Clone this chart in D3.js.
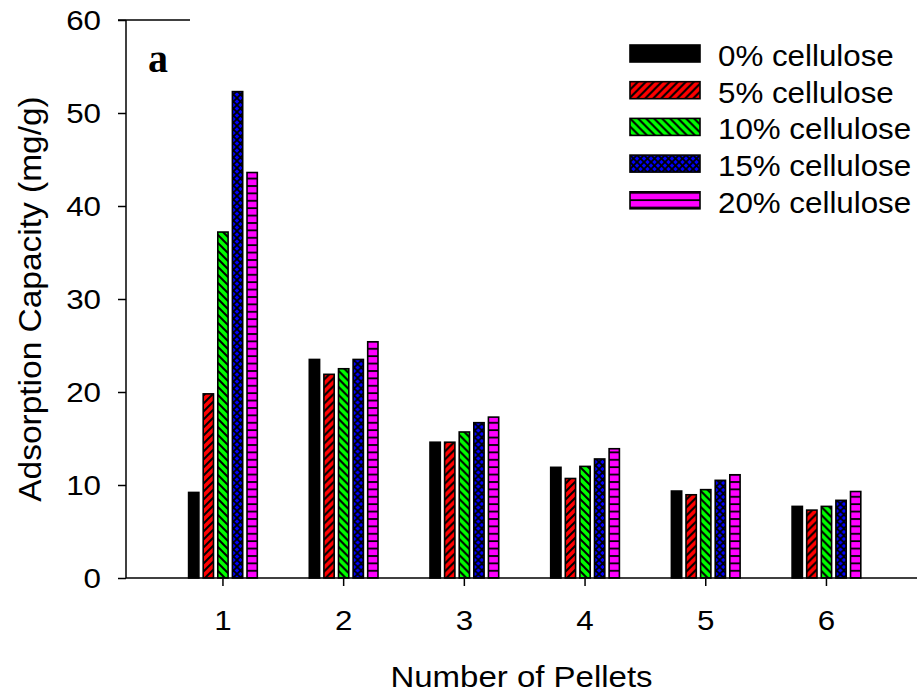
<!DOCTYPE html>
<html>
<head>
<meta charset="utf-8">
<script src="https://cdn.jsdelivr.net/npm/d3@7"></script>
<style>
  html, body { margin: 0; padding: 0; background: #fff; }
  svg text { font-family: "Liberation Sans", Arial, sans-serif; fill: #000; }
</style>
</head>
<body>
<svg id="chart" width="917" height="694"></svg>
<script>
// Adsorption capacity (mg/g) by number of pellets, one series per cellulose content
const pellets = ["1", "2", "3", "4", "5", "6"];
const seriesNames = ["0% cellulose", "5% cellulose", "10% cellulose", "15% cellulose", "20% cellulose"];
const cellulose0  = [9.2, 23.5, 14.6, 11.9, 9.35, 7.7];
const cellulose5  = [19.8, 21.9, 14.6, 10.7, 8.95, 7.3];
const cellulose10 = [37.2, 22.5, 15.7, 12.0, 9.5, 7.7];
const cellulose15 = [52.3, 23.5, 16.7, 12.8, 10.5, 8.35];
const cellulose20 = [43.6, 25.4, 17.3, 13.9, 11.1, 9.3];
const yTicks = [0, 10, 20, 30, 40, 50, 60];

const seriesValues = [cellulose0, cellulose5, cellulose10, cellulose15, cellulose20];
const fills = ["solid", "diagRed", "diagGreen", "crossBlue", "hlineMagenta"];

const svg = d3.select("#chart");
const FONT = "'Liberation Sans', Arial, sans-serif";

// Fill patterns for the bars
const defs = svg.append("defs");
const diagRed = defs.append("pattern").attr("id", "diagRed")
  .attr("patternUnits", "userSpaceOnUse").attr("width", 8).attr("height", 8);
diagRed.append("rect").attr("width", 8).attr("height", 8).attr("fill", "#ff0000");
diagRed.append("path").attr("d", "M-2,2 L2,-2 M0,8 L8,0 M6,10 L10,6")
  .attr("stroke", "#000").attr("stroke-width", 2);

const diagGreen = defs.append("pattern").attr("id", "diagGreen")
  .attr("patternUnits", "userSpaceOnUse").attr("width", 8).attr("height", 8);
diagGreen.append("rect").attr("width", 8).attr("height", 8).attr("fill", "#00ff00");
diagGreen.append("path").attr("d", "M-2,6 L2,10 M0,0 L8,8 M6,-2 L10,2")
  .attr("stroke", "#000").attr("stroke-width", 2);

const crossBlue = defs.append("pattern").attr("id", "crossBlue")
  .attr("patternUnits", "userSpaceOnUse").attr("width", 7).attr("height", 7);
crossBlue.append("rect").attr("width", 7).attr("height", 7).attr("fill", "#0000ff");
crossBlue.append("path").attr("d", "M0,0 L7,7 M7,0 L0,7")
  .attr("stroke", "#000").attr("stroke-width", 1.8);

const hlineMagenta = defs.append("pattern").attr("id", "hlineMagenta")
  .attr("patternUnits", "userSpaceOnUse").attr("width", 10).attr("height", 7.4);
hlineMagenta.append("rect").attr("width", 10).attr("height", 7.4).attr("fill", "#ff00ff");
hlineMagenta.append("line").attr("x1", 0).attr("x2", 10).attr("y1", 1).attr("y2", 1)
  .attr("stroke", "#000").attr("stroke-width", 1.8);

const fillOf = f => f === "solid" ? "#000" : `url(#${f})`;

// Scales
const plotLeft = 126, plotRight = 917, plotTop = 20, plotBottom = 578;
const y = d3.scaleLinear().domain([0, 60]).range([plotBottom, plotTop]);
const x0 = d3.scaleBand().domain(pellets).range([162.6, 886.8]).padding(0);
const x1 = d3.scaleBand().domain(seriesNames).range([-34.35, 34.35]).paddingInner(0.295);

// Bars
const groups = svg.append("g").selectAll("g")
  .data(pellets)
  .join("g")
  .attr("transform", p => `translate(${x0(p) + x0.bandwidth() / 2},0)`);

groups.selectAll("rect")
  .data((p, i) => seriesNames.map((s, k) => ({ s, k, v: seriesValues[k][i] })))
  .join("rect")
  .attr("x", d => x1(d.s))
  .attr("width", x1.bandwidth())
  .attr("y", d => y(d.v))
  .attr("height", d => y(0) - y(d.v))
  .attr("fill", d => fillOf(fills[d.k]))
  .attr("stroke", "#000")
  .attr("stroke-width", 1.6);

// Y axis
const yAxis = d3.axisLeft(y).tickValues(yTicks).tickSize(8).tickPadding(14);
const gy = svg.append("g").attr("transform", `translate(${plotLeft},0)`).call(yAxis);
gy.select(".domain").attr("stroke-width", 1.5).attr("d", `M0,${plotTop}V${plotBottom}`);
gy.selectAll(".tick line").attr("stroke-width", 1.5);
gy.selectAll(".tick text")
  .attr("font-size", 27.5).attr("font-family", FONT)
  .attr("x", 0).attr("dy", "0.36em")
  .attr("transform", "translate(-25,0) scale(1.14,1)");

// line at the 60 mark
svg.append("line").attr("x1", 118).attr("x2", 190).attr("y1", y(60)).attr("y2", y(60))
  .attr("stroke", "#000").attr("stroke-width", 1.5);

// X axis
const xAxis = d3.axisBottom(x0).tickSize(8).tickPadding(14).tickSizeOuter(0);
const gx = svg.append("g").attr("transform", `translate(0,${plotBottom})`).call(xAxis);
gx.select(".domain").attr("stroke-width", 1.5).attr("d", `M${plotLeft},0H${plotRight}`);
gx.selectAll(".tick line").attr("stroke-width", 1.5);
gx.selectAll(".tick text")
  .attr("font-size", 27.5).attr("font-family", FONT)
  .attr("y", 0).attr("dy", 0)
  .attr("transform", "translate(0,52) scale(1.14,1)");

// Axis titles
svg.append("g").attr("transform", `translate(${(plotLeft + plotRight) / 2},687) scale(1.1,1)`)
  .append("text")
  .attr("text-anchor", "middle")
  .attr("font-size", 30)
  .text("Number of Pellets");

svg.append("g").attr("transform", `translate(41,${(plotTop + plotBottom) / 2}) rotate(-90) scale(1.08,1)`)
  .append("text")
  .attr("text-anchor", "middle")
  .attr("font-size", 31)
  .text("Adsorption Capacity (mg/g)");

// Panel label
svg.append("text")
  .attr("x", 148).attr("y", 72)
  .attr("font-weight", "bold")
  .attr("font-size", 40)
  .style("font-family", "'Liberation Serif', 'Times New Roman', serif")
  .text("a");

// Legend
const legend = svg.append("g").attr("transform", "translate(630,45)");
const item = legend.selectAll("g").data(seriesNames).join("g")
  .attr("transform", (d, i) => `translate(0,${i * 36.7})`);
item.append("rect")
  .attr("width", 70).attr("height", 17)
  .attr("fill", (d, i) => fillOf(fills[i]))
  .attr("stroke", "#000").attr("stroke-width", 1.6);
item.append("text")
  .attr("transform", "translate(88,21) scale(1.08,1)")
  .attr("font-size", 29)
  .text(d => d);
</script>
</body>
</html>
